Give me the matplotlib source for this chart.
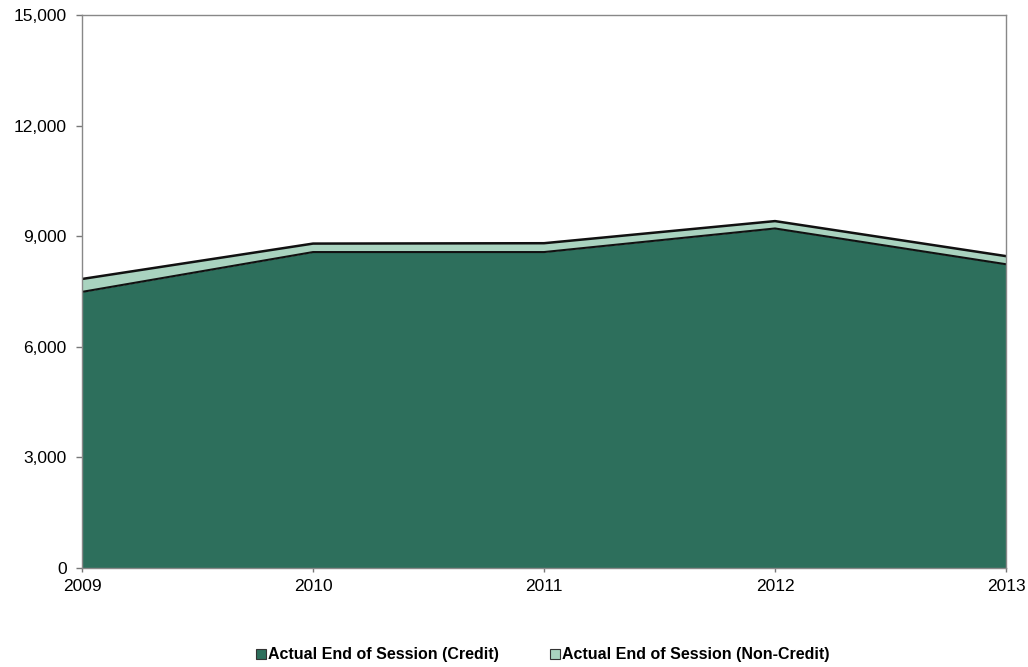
import matplotlib
matplotlib.use("Agg")
import matplotlib.pyplot as plt
from matplotlib.patches import Patch

years = [2009, 2010, 2011, 2012, 2013]
credit = [7490, 8570, 8570, 9210, 8240]
noncredit = [350, 230, 240, 200, 220]
series_names = ["Actual End of Session (Credit)", "Actual End of Session (Non-Credit)"]
colors = ["#2d6f5c", "#a9d3bf"]
yticks = [0, 3000, 6000, 9000, 12000, 15000]

plt.rcParams['font.family'] = ['Liberation Sans', 'DejaVu Sans']
fig = plt.figure(figsize=(10.28, 6.67), dpi=100)
ax = fig.add_axes([0.0798, 0.1484, 0.8988, 0.8291])

total = [c + n for c, n in zip(credit, noncredit)]
ax.fill_between(years, 0, credit, color=colors[0], linewidth=0)
ax.fill_between(years, credit, total, color=colors[1], linewidth=0)
ax.plot(years, credit, color="#111111", linewidth=1.5)
ax.plot(years, total, color="#111111", linewidth=1.8)

ax.set_xlim(years[0], years[-1])
ax.set_ylim(0, 15000)
ax.set_yticks(yticks)
ax.set_yticklabels([f"{v:,}" for v in yticks], fontsize=12.5)
ax.set_xticks(years)
ax.set_xticklabels([str(y) for y in years], fontsize=12.5)
ax.tick_params(axis='y', length=4, color="#777777", width=1, pad=7)
ax.tick_params(axis='x', length=3, color="#777777", width=1, pad=5)
for s in ax.spines.values():
    s.set_color("#888888")
    s.set_linewidth(1)

handles = [Patch(facecolor=colors[0], edgecolor="#333333", linewidth=0.8),
           Patch(facecolor=colors[1], edgecolor="#333333", linewidth=0.8)]
fig.legend(handles, series_names, loc="center", bbox_to_anchor=(0.528, 0.018),
           ncol=2, frameon=False, prop={'weight': 'bold', 'size': 11.5},
           handlelength=0.6, handleheight=0.6, handletextpad=0.15, columnspacing=3.2)

fig.savefig("out.png", dpi=100)
